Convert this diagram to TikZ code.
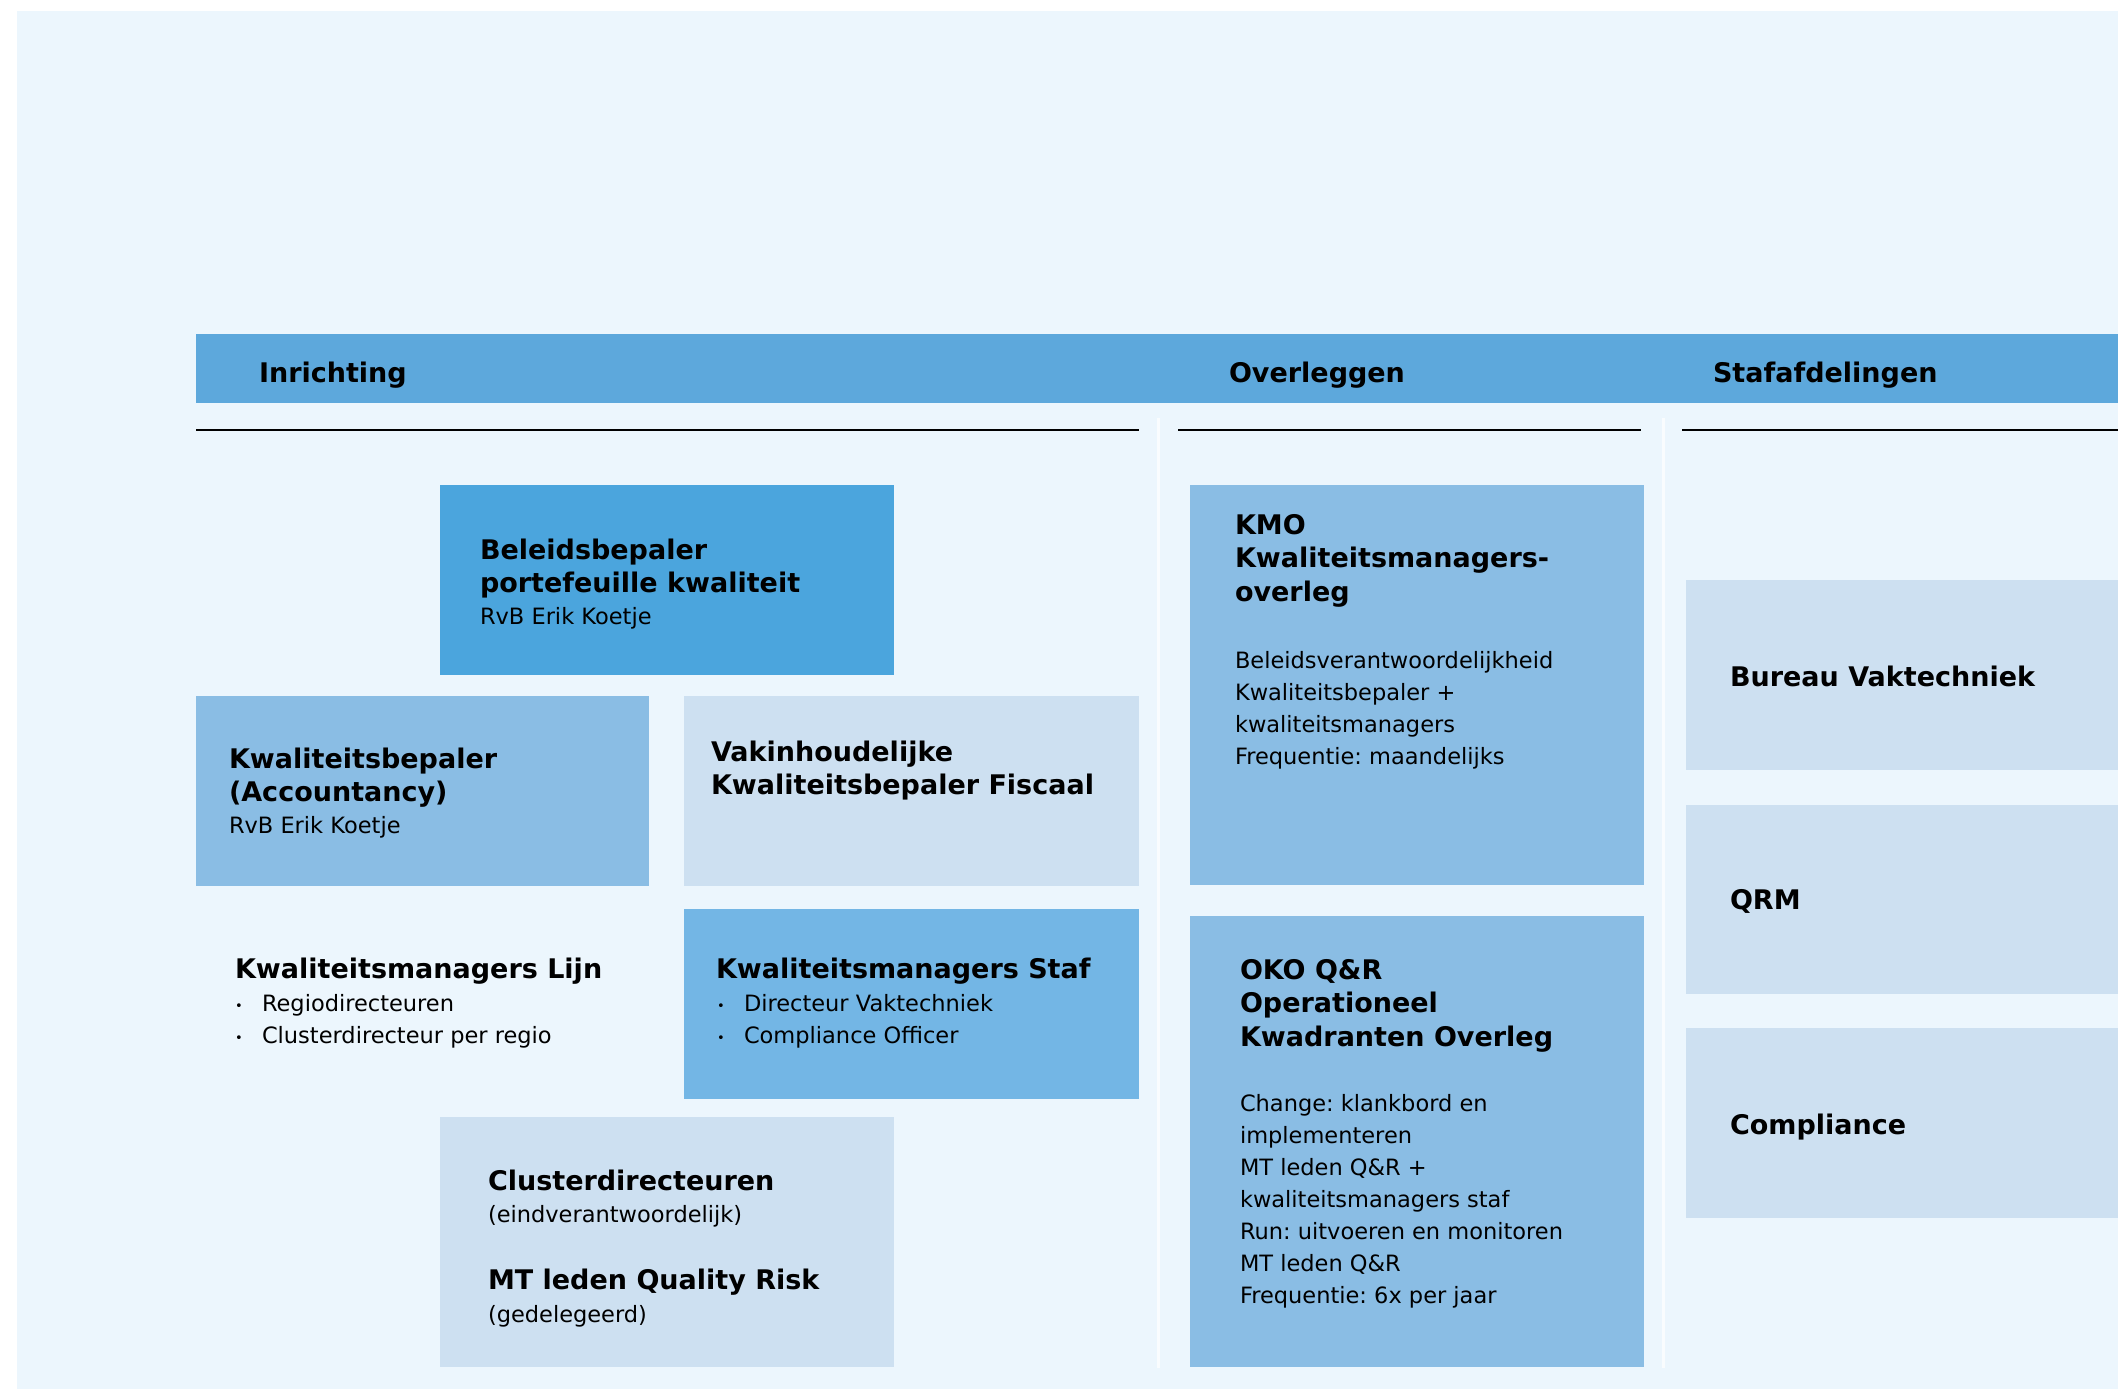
\documentclass[tikz,border=0pt]{standalone}
\usepackage{fontspec}
\setmainfont{DejaVu Sans}
\frenchspacing
\definecolor{pagebg}{HTML}{ECF6FD}
\definecolor{headbg}{HTML}{5DA8DC}
\definecolor{cdark}{HTML}{4BA5DD}
\definecolor{cmid}{HTML}{8ABDE4}
\definecolor{cstaf}{HTML}{73B6E5}
\definecolor{clight}{HTML}{CDE0F1}
\definecolor{csep}{HTML}{F9FCFE}
\newcommand\bxtitle{\fontsize{27}{33.5}\selectfont\bfseries\frenchspacing}
\newcommand\bxbody{\fontsize{22.5}{32}\selectfont\frenchspacing}
\newcommand\bxbul{\makebox[27pt][l]{\raisebox{1pt}{\fontsize{13}{13}\selectfont\textbullet}}}
\begin{document}
\begin{tikzpicture}[x=1pt,y=-1pt,
  box/.style={anchor=north west,inner sep=0,outer sep=0,draw=none},
  txt/.style={anchor=base west,inner sep=0,outer sep=0,align=left,text=black},
  ttl/.style={txt,font=\bxtitle},
  bdy/.style={txt,font=\bxbody},
  rule/.style={line width=2.7pt,black},
  sep/.style={fill=csep}]
\useasboundingbox (0,0) rectangle (2118,1389);
\fill[white] (0,0) rectangle (2118,1389);
\fill[pagebg] (17,11) rectangle (2118,1389);
% header bar
\node[box,fill=headbg,minimum width=1922pt,minimum height=69pt] (head) at (196,334) {};
\node[ttl] (hinr) at (259,382) {Inrichting};
\node[ttl] (hovl) at (1229,382) {Overleggen};
\node[ttl] (hstaf) at (1713,382) {Stafafdelingen};
% separators
\fill[sep] (1157,418) rectangle (1159.5,1368);
\fill[sep] (1662,418) rectangle (1664.5,1368);
% rules
\coordinate (r1a) at (196,430); \coordinate (r1b) at (1139,430);
\coordinate (r2a) at (1178,430); \coordinate (r2b) at (1641,430);
\coordinate (r3a) at (1682,430); \coordinate (r3b) at (2118,430);
\draw[rule] (r1a) -- (r1b);
\draw[rule] (r2a) -- (r2b);
\draw[rule] (r3a) -- (r3b);
% Inrichting boxes
\node[box,fill=cdark,minimum width=454pt,minimum height=190pt] (b1) at (440,485) {};
\node[box,fill=cmid,minimum width=453pt,minimum height=190pt] (b2) at (196,696) {};
\node[box,fill=clight,minimum width=455pt,minimum height=190pt] (b3) at (684,696) {};
\node[box,fill=cstaf,minimum width=455pt,minimum height=190pt] (b5) at (684,909) {};
\node[box,fill=clight,minimum width=454pt,minimum height=250pt] (b6) at (440,1117) {};
% Overleggen boxes
\node[box,fill=cmid,minimum width=454pt,minimum height=400pt] (kmo) at (1190,485) {};
\node[box,fill=cmid,minimum width=454pt,minimum height=451pt] (oko) at (1190,916) {};
% Stafafdelingen boxes
\node[box,fill=clight,minimum width=432pt,minimum height=190pt] (bv) at (1686,580) {};
\node[box,fill=clight,minimum width=432pt,minimum height=189pt] (qrm) at (1686,805) {};
\node[box,fill=clight,minimum width=432pt,minimum height=190pt] (comp) at (1686,1028) {};
% texts (multi-line nodes are placed by the baseline of their last line)
\node[ttl] (t1) at (480,592.5) {Beleidsbepaler\\portefeuille kwaliteit};
\node[bdy] (t1b) at (480,624) {RvB Erik Koetje};
\node[ttl] (t2) at (229,801.5) {Kwaliteitsbepaler\\(Accountancy)};
\node[bdy] (t2b) at (229,833) {RvB Erik Koetje};
\node[ttl] (t3) at (711,794.5) {Vakinhoudelijke\\Kwaliteitsbepaler Fiscaal};
\node[ttl] (t4) at (235,978) {Kwaliteitsmanagers Lijn};
\node[bdy] (t4b) at (235,1043) {\bxbul Regiodirecteuren\\\bxbul Clusterdirecteur per regio};
\node[ttl] (t5) at (716,978) {Kwaliteitsmanagers Staf};
\node[bdy] (t5b) at (717,1043) {\bxbul Directeur Vaktechniek\\\bxbul Compliance Officer};
\node[ttl] (t6) at (488,1190) {Clusterdirecteuren};
\node[bdy] (t6b) at (488,1222) {(eindverantwoordelijk)};
\node[ttl] (t7) at (488,1289) {MT leden Quality Risk};
\node[bdy] (t7b) at (488,1322) {(gedelegeerd)};
\node[ttl] (tk) at (1235,601) {KMO\\Kwaliteitsmanagers-\\overleg};
\node[bdy] (tkb) at (1235,764) {Beleidsverantwoordelijkheid\\Kwaliteitsbepaler +\\kwaliteitsmanagers\\Frequentie: maandelijks};
\node[ttl] (to) at (1240,1046) {OKO Q\&R\\Operationeel\\Kwadranten Overleg};
\node[bdy] (tob) at (1240,1303) {Change: klankbord en\\implementeren\\MT leden Q\&R +\\kwaliteitsmanagers staf\\Run: uitvoeren en monitoren\\MT leden Q\&R\\Frequentie: 6x per jaar};
\node[ttl] (tbv) at (1730,686) {Bureau Vaktechniek};
\node[ttl] (tqrm) at (1730,909) {QRM};
\node[ttl] (tcomp) at (1730,1134) {Compliance};
\end{tikzpicture}
\end{document}
